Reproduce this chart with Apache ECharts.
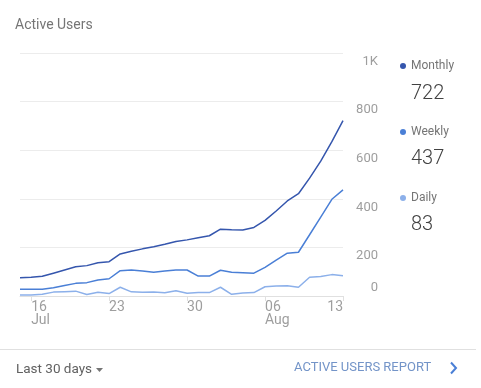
<!DOCTYPE html>
<html>
<head>
<meta charset="utf-8">
<script src="https://cdn.jsdelivr.net/npm/echarts@6/dist/echarts.min.js"></script>
<style>
html,body{margin:0;padding:0;background:#fff;}
#c{width:481px;height:388px;}
</style>
</head>
<body>
<div id="c"></div>
<script>
var categories = ['Jul 15','Jul 16','Jul 17','Jul 18','Jul 19','Jul 20','Jul 21','Jul 22','Jul 23','Jul 24',
  'Jul 25','Jul 26','Jul 27','Jul 28','Jul 29','Jul 30','Jul 31','Aug 01','Aug 02','Aug 03',
  'Aug 04','Aug 05','Aug 06','Aug 07','Aug 08','Aug 09','Aug 10','Aug 11','Aug 12','Aug 13'];
var seriesNames = ['Monthly','Weekly','Daily'];
var monthly = [75,77,81,94,107,120,125,137,141,173,184,194,203,213,224,231,240,248,275,273,272,282,311,350,391,421,485,555,635,722];
var weekly = [28,28,28,34,43,52,55,66,71,104,107,103,98,103,107,107,82,82,106,98,96,94,118,148,176,180,252,325,398,437];
var daily = [4,4,7,16,18,20,6,15,10,36,17,15,16,13,22,11,14,14,36,7,12,14,38,41,42,36,77,80,88,83];
var yTicks = [0,200,400,600,800,1000];
var yTickLabels = ['0','200','400','600','800','1K'];
var colors = ['#3556ad','#4a7fd6','#8cb0ea'];
var allSeries = [monthly, weekly, daily];

var chart = echarts.init(document.getElementById('c'));
function isShown(i){ return (i - 1) % 7 === 0 && i >= 1; }
var font = 'Roboto, "Noto Sans", sans-serif';
var option = {
  animation: false,
  textStyle: {fontFamily: font},
  title: {text: 'Active Users', left: 10, top: 13, textStyle: {fontSize: 14, fontWeight: 'normal', color: '#757575', fontFamily: font}},
  grid: {left: 20, right: 138, top: 53, bottom: 92},
  legend: {
    orient: 'vertical', left: 395, top: 55, itemGap: 54,
    icon: 'circle', itemWidth: 6, itemHeight: 6,
    textStyle: {color: '#757575', fontSize: 12, fontFamily: font},
    data: seriesNames
  },
  xAxis: {
    type: 'category', data: categories, boundaryGap: false,
    axisLine: {lineStyle: {color: '#e0e0e0'}},
    axisTick: {show: true, interval: function(i){return isShown(i);}, length: 5, lineStyle: {color: '#e0e0e0'}},
    axisLabel: {
      interval: function(i){return isShown(i);},
      align: 'left', margin: 5, color: '#9e9e9e', fontSize: 14, lineHeight: 13, fontFamily: font,
      alignMaxLabel: 'right',
      formatter: function(v, i){
        var p = v.split(' ');
        var showMonth = (i === 1) || (categories[i-7] && categories[i-7].split(' ')[0] !== p[0]);
        return showMonth ? p[1] + '\n' + p[0] : p[1];
      }
    }
  },
  yAxis: [{
    type: 'value', position: 'right', min: 0, max: 1000, interval: 200,
    splitLine: {lineStyle: {color: '#ececec'}},
    axisLine: {show: false}, axisTick: {show: false},
    axisLabel: {
      align: 'right', margin: 35, verticalAlign: 'top', padding: [2,0,0,0],
      color: '#9e9e9e', fontSize: 13, fontFamily: font,
      formatter: function(v){ return v === 0 ? '' : yTickLabels[yTicks.indexOf(v)]; }
    }
  },{
    type: 'value', position: 'right', min: 0, max: 1000, interval: 200,
    splitLine: {show: false}, axisLine: {show: false}, axisTick: {show: false},
    axisLabel: {
      align: 'right', margin: 35, verticalAlign: 'bottom', padding: [0,0,2,0],
      color: '#9e9e9e', fontSize: 13, fontFamily: font,
      formatter: function(v){ return v === 0 ? yTickLabels[0] : ''; }
    }
  }],
  series: seriesNames.map(function(n, k){
    return {name: n, type: 'line', data: allSeries[k], symbol: 'none', color: colors[k],
      lineStyle: {width: 1.5, color: colors[k]}, z: 3 - k};
  }),
  graphic: [
    {type: 'text', left: 411, top: 84, style: {text: String(monthly[monthly.length-1]), fill: '#424242', font: '300 20px ' + font}},
    {type: 'text', left: 411, top: 149, style: {text: String(weekly[weekly.length-1]), fill: '#424242', font: '300 20px ' + font}},
    {type: 'text', left: 411, top: 215, style: {text: String(daily[daily.length-1]), fill: '#424242', font: '300 20px ' + font}},
    {type: 'line', shape: {x1: 0, y1: 349.5, x2: 476, y2: 349.5}, style: {stroke: '#e0e0e0', lineWidth: 1}},
    {type: 'text', left: 16, top: 363, style: {text: 'Last 30 days', fill: '#616161', font: '13.5px ' + font}},
    {type: 'polygon', shape: {points: [[96,368],[103,368],[99.5,372]]}, style: {fill: '#757575'}},
    {type: 'text', left: 294, top: 361, style: {text: 'ACTIVE USERS REPORT', fill: '#7394c8', font: '13px ' + font}},
    {type: 'polyline', shape: {points: [[451,362.5],[456,368],[451,373.5]]}, style: {stroke: '#4a7fd6', lineWidth: 2, fill: null}}
  ]
};
chart.setOption(option);
</script>
</body>
</html>
